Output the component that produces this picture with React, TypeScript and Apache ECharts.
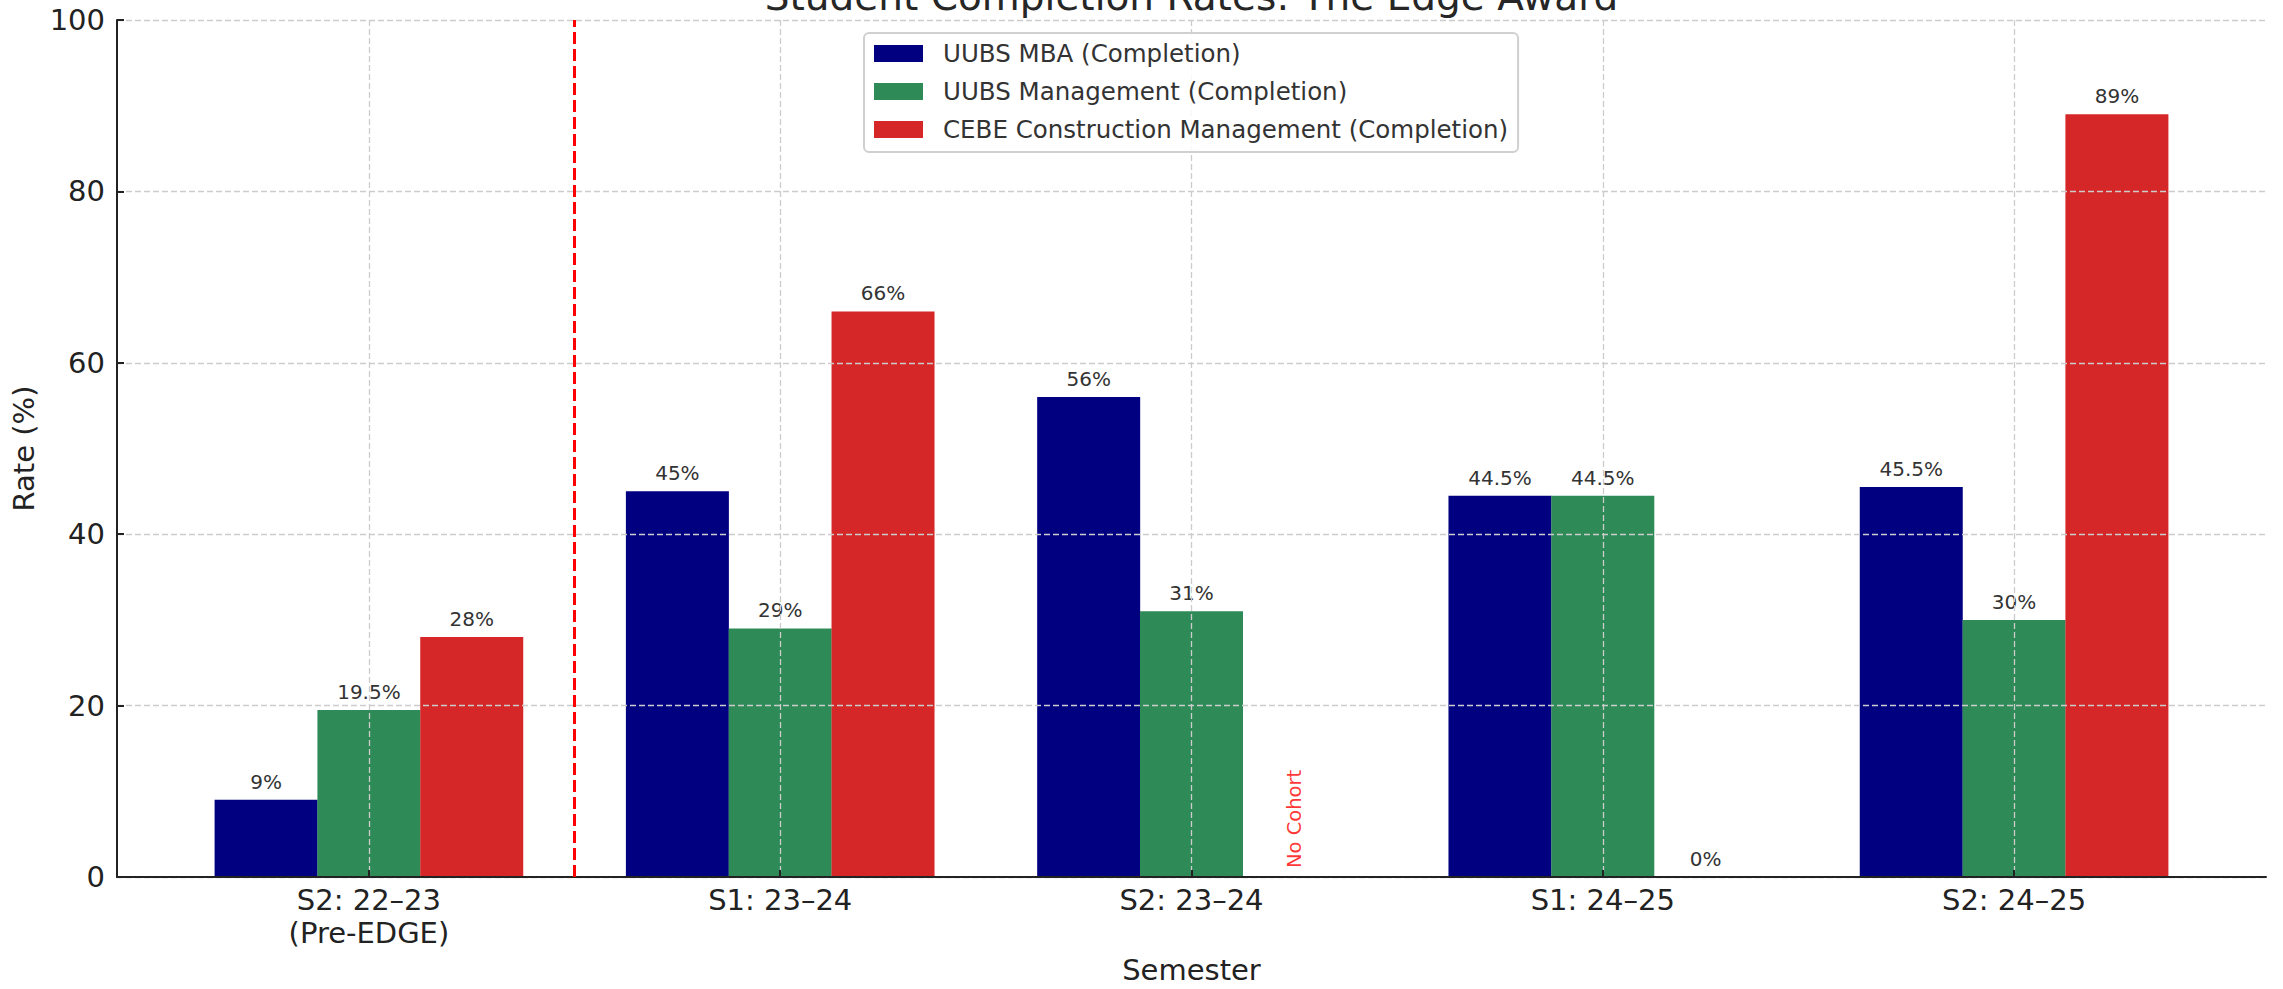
import React, { useEffect, useRef } from "react";
import * as echarts from "echarts";

// ---- Data ----
const categories = [
  "S2: 22–23\n(Pre-EDGE)",
  "S1: 23–24",
  "S2: 23–24",
  "S1: 24–25",
  "S2: 24–25",
];
const seriesNames = [
  "UUBS MBA (Completion)",
  "UUBS Management (Completion)",
  "CEBE Construction Management (Completion)",
];
const mbaValues: (number | null)[] = [9, 45, 56, 44.5, 45.5];
const mgmtValues: (number | null)[] = [19.5, 29, 31, 44.5, 30];
const cebeValues: (number | null)[] = [28, 66, null, 0, 89];
const yTicks = [0, 20, 40, 60, 80, 100];
const noCohortIndex = 2;
const noCohortText = "No Cohort";
const eraDividerX = 0.5;
const titleText = "Student Completion Rates: The Edge Award";
const xTitle = "Semester";
const yTitle = "Rate (%)";

// ---- Styles ----
const FONT = "DejaVu Sans";
const colors = ["#000080", "#2E8B57", "#D62728"];
const offsets = [-0.25, 0, 0.25];
const W = 2283;
const H = 989;
const gridLeft = 117;
const gridRight = 17;
const gridTop = 20;
const gridBottom = 109;
const plotCenterX = gridLeft + (W - gridLeft - gridRight) / 2;

export default function App() {
  const ref = useRef<HTMLDivElement>(null);

  useEffect(() => {
    document.body.style.margin = "0";
    if (!ref.current) return;
    const chart = echarts.init(ref.current, null, { renderer: "svg" });
    const allValues = [mbaValues, mgmtValues, cebeValues];
    const catIdx = categories.map((_, i) => i);

    const barSeries = allValues.map((vals, s) => ({
      type: "bar",
      name: seriesNames[s],
      barWidth: 103,
      barGap: "-100%",
      itemStyle: { color: colors[s] },
      data: vals
        .map((v, i) => (v == null ? null : [i + offsets[s], v]))
        .filter((d) => d !== null),
      label: {
        show: true,
        position: "top",
        distance: 8,
        fontSize: 20,
        fontFamily: FONT,
        color: "#333333",
        formatter: (p: any) => `${p.value[1]}%`,
      },
      z: 2,
      ...(s === 0
        ? {
            markLine: {
              silent: true,
              symbol: ["none", "none"],
              label: { show: false },
              lineStyle: { color: "#ff0000", type: [12, 5], width: 3 },
              data: [{ xAxis: eraDividerX }],
              z: 5,
            },
          }
        : {}),
    }));

    const option: any = {
      animation: false,
      textStyle: { fontFamily: FONT },
      grid: {
        left: gridLeft,
        right: gridRight,
        top: gridTop,
        bottom: gridBottom,
        containLabel: false,
      },
      graphic: [
        {
          type: "text",
          x: plotCenterX,
          y: -4,
          style: {
            text: titleText,
            font: `39px '${FONT}'`,
            fill: "#262626",
            align: "center",
            verticalAlign: "middle",
          },
          z: 10,
        },
      ],
      legend: {
        data: seriesNames,
        orient: "vertical",
        left: 864,
        top: 33,
        itemWidth: 49,
        itemHeight: 17,
        itemGap: 13,
        icon: "rect",
        padding: [8, 10, 10, 10],
        borderColor: "#d0d0d0",
        borderWidth: 2,
        borderRadius: 5,
        backgroundColor: "rgba(255,255,255,0.85)",
        textStyle: {
          fontSize: 24.5,
          fontFamily: FONT,
          color: "#333333",
          padding: [0, 0, 0, 15],
        },
        z: 10,
      },
      xAxis: {
        type: "value",
        min: -0.6125,
        max: 4.6125,
        z: 3,
        axisLine: { show: true, onZero: false, lineStyle: { color: "#222222", width: 2 } },
        axisTick: {
          show: true,
          inside: true,
          length: 7,
          customValues: catIdx,
          lineStyle: { color: "#222222", width: 2 },
        },
        axisLabel: {
          customValues: catIdx,
          formatter: (v: number) => categories[Math.round(v)] ?? "",
          fontSize: 29,
          lineHeight: 33,
          color: "#222222",
          fontFamily: FONT,
          margin: 6,
        },
        splitLine: {
          show: true,
          lineStyle: { color: "#cccccc", type: [6, 3], width: 1.3 },
        },
        name: xTitle,
        nameLocation: "middle",
        nameGap: 78,
        nameTextStyle: { fontSize: 29, color: "#222222", fontFamily: FONT },
      },
      yAxis: {
        type: "value",
        min: yTicks[0],
        max: yTicks[yTicks.length - 1],
        interval: yTicks[1] - yTicks[0],
        z: 3,
        axisLine: { show: true, onZero: false, lineStyle: { color: "#222222", width: 2 } },
        axisTick: {
          show: true,
          inside: true,
          length: 7,
          lineStyle: { color: "#222222", width: 2 },
        },
        axisLabel: {
          fontSize: 29,
          color: "#222222",
          fontFamily: FONT,
          margin: 12,
        },
        splitLine: {
          show: true,
          lineStyle: { color: "#cccccc", type: [6, 3], width: 1.3 },
        },
        name: yTitle,
        nameLocation: "middle",
        nameGap: 75,
        nameRotate: 90,
        nameTextStyle: { fontSize: 29, color: "#222222", fontFamily: FONT },
      },
      series: [
        ...barSeries,
        {
          type: "scatter",
          name: "noCohort",
          symbolSize: 0,
          silent: true,
          data: [[noCohortIndex + offsets[2], 0]],
          label: {
            show: true,
            formatter: noCohortText,
            position: "top",
            distance: 9,
            rotate: 90,
            align: "left",
            verticalAlign: "middle",
            color: "#ff0000",
            fontSize: 19.5,
            fontFamily: FONT,
          },
          z: 4,
        },
      ],
    };
    chart.setOption(option);
    return () => chart.dispose();
  }, []);

  return (
    <div
      ref={ref}
      style={{ position: "absolute", left: 0, top: 0, width: W, height: H }}
    />
  );
}
